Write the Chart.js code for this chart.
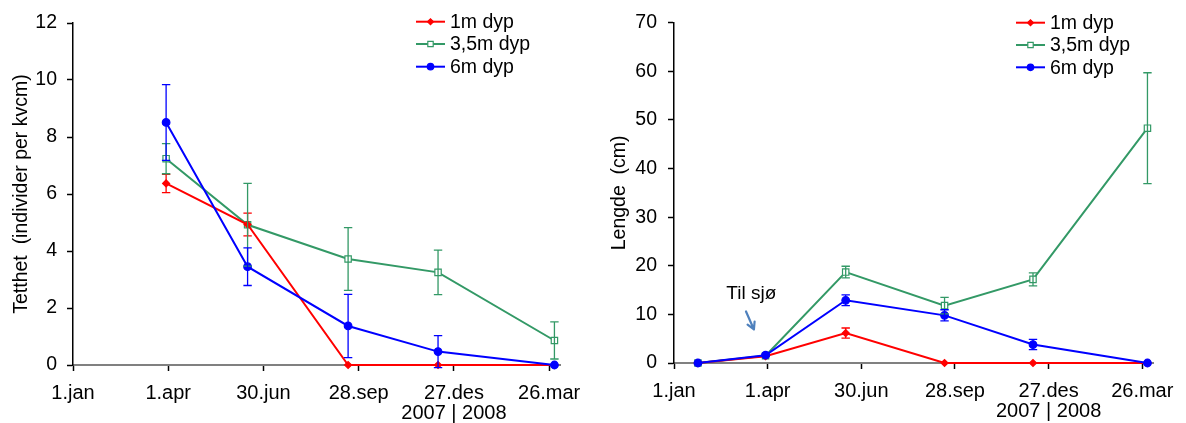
<!DOCTYPE html>
<html><head><meta charset="utf-8">
<script src="https://cdn.jsdelivr.net/npm/chart.js@4/dist/chart.umd.min.js"></script>
<style>
html,body{margin:0;padding:0;background:#fff;}
#wrap{position:relative;width:1186px;height:423px;overflow:hidden;background:#fff;}
canvas{position:absolute;top:0;}
#c1{left:0;} #c2{left:593px;}
</style></head><body>
<div id="wrap"><canvas id="c1" width="593" height="423"></canvas><canvas id="c2" width="593" height="423"></canvas></div>
<script>
// ---- data ----
const seriesLabels = ['1m dyp', '3,5m dyp', '6m dyp'];
const tickDays = [0, 90, 180, 270, 360, 450];
const tickNames = ['1.jan', '1.apr', '30.jun', '28.sep', '27.des', '26.mar'];
const yearLabel = '2007 | 2008';

// Tetthet (individer per kvcm)
const densityDays = [88, 165, 260, 345, 455];
const density1m = [6.37, 4.93, 0, 0, 0];
const density1mErr = [0.32, 0.40, 0, 0, 0];
const density35m = [7.24, 4.92, 3.72, 3.25, 0.86];
const density35mErr = [0.53, 1.45, 1.10, 0.78, 0.65];
const density6m = [8.51, 3.45, 1.37, 0.47, 0];
const density6mErr = [1.33, 0.66, 1.11, 0.56, 0];

// Lengde (cm)
const lengthDays = [23, 88, 165, 260, 345, 455];
const length1m = [0, 1.4, 6.15, 0, 0, 0];
const length1mErr = [0, 0, 1.05, 0, 0, 0];
const length35m = [0, 1.5, 18.7, 11.8, 17.2, 48.3];
const length35mErr = [0, 0, 1.2, 1.7, 1.35, 11.4];
const length6m = [0, 1.6, 12.9, 9.8, 3.8, 0];
const length6mErr = [0, 0.2, 1.1, 1.15, 1.05, 0];

const annotationText = 'Til sjø';

// ---- styles ----
const FONT = '"Liberation Sans", Arial, sans-serif';
const styles = [
  {color: '#ff0000', pointStyle: 'rectRot', radius: 3.5, fill: '#ff0000', order: 1},
  {color: '#339966', pointStyle: 'rect', radius: 4.5, fill: '#ffffff', order: 2},
  {color: '#0000ff', pointStyle: 'circle', radius: 3.8, fill: '#0000ff', order: 0}
];

function makeDatasets(days, seriesList, errList) {
  return seriesList.map((vals, i) => ({
    label: seriesLabels[i],
    data: vals.map((v, j) => ({x: days[j], y: v})),
    errors: errList[i],
    borderColor: styles[i].color,
    backgroundColor: styles[i].fill,
    pointBackgroundColor: styles[i].fill,
    pointBorderColor: styles[i].color,
    pointBorderWidth: 1.2,
    pointStyle: styles[i].pointStyle,
    pointRadius: styles[i].radius,
    borderWidth: 2,
    tension: 0,
    clip: false,
    order: styles[i].order
  }));
}

const errorBarPlugin = {
  id: 'errorBars',
  afterDatasetsDraw(chart) {
    const ctx = chart.ctx, xs = chart.scales.x, ys = chart.scales.y;
    ctx.save();
    chart.data.datasets.forEach(ds => {
      ctx.strokeStyle = ds.borderColor;
      ctx.lineWidth = 1.3;
      ds.data.forEach((p, j) => {
        const e = ds.errors[j];
        if (!e) return;
        const x = xs.getPixelForValue(p.x);
        const y1 = ys.getPixelForValue(p.y + e);
        const y2 = ys.getPixelForValue(p.y - e);
        ctx.beginPath();
        ctx.moveTo(x, y1); ctx.lineTo(x, y2);
        ctx.moveTo(x - 4.2, y1); ctx.lineTo(x + 4.2, y1);
        ctx.moveTo(x - 4.2, y2); ctx.lineTo(x + 4.2, y2);
        ctx.stroke();
      });
    });
    ctx.restore();
  }
};

const legendPlugin = {
  id: 'boxLegend',
  afterDraw(chart, args, opts) {
    const ctx = chart.ctx;
    ctx.save();
    chart.data.datasets.forEach((ds, i) => {
      const y = opts.rows[i];
      ctx.strokeStyle = ds.borderColor;
      ctx.lineWidth = 2;
      ctx.beginPath();
      ctx.moveTo(opts.x0, y); ctx.lineTo(opts.x1, y);
      ctx.stroke();
      ctx.fillStyle = ds.pointBackgroundColor;
      ctx.strokeStyle = ds.borderColor;
      ctx.lineWidth = 1.2;
      Chart.helpers.drawPoint(ctx, {pointStyle: ds.pointStyle, rotation: 0, radius: ds.pointRadius * 0.85, borderWidth: 1.2}, (opts.x0 + opts.x1) / 2, y);
      ctx.fillStyle = '#000';
      ctx.font = '19.5px ' + FONT;
      ctx.textAlign = 'left';
      ctx.textBaseline = 'middle';
      ctx.fillText(ds.label, opts.textX, y + 1);
    });
    ctx.restore();
  }
};

const annotationPlugin = {
  id: 'noteArrow',
  afterDraw(chart, args, opts) {
    if (!opts.text) return;
    const ctx = chart.ctx, xs = chart.scales.x, ys = chart.scales.y;
    ctx.save();
    ctx.fillStyle = '#000';
    ctx.font = '19px ' + FONT;
    ctx.textAlign = 'left';
    ctx.textBaseline = 'alphabetic';
    ctx.fillText(opts.text, xs.getPixelForValue(opts.textAt[0]), ys.getPixelForValue(opts.textAt[1]));
    const ax = xs.getPixelForValue(opts.from[0]), ay = ys.getPixelForValue(opts.from[1]);
    const bx = xs.getPixelForValue(opts.to[0]), by = ys.getPixelForValue(opts.to[1]);
    ctx.strokeStyle = '#4f81bd';
    ctx.lineWidth = 2.2;
    ctx.lineCap = 'round';
    ctx.beginPath();
    ctx.moveTo(ax, ay); ctx.lineTo(bx, by);
    const ang = Math.atan2(by - ay, bx - ax);
    const hl = 8;
    ctx.moveTo(bx, by); ctx.lineTo(bx - hl * Math.cos(ang - 0.5), by - hl * Math.sin(ang - 0.5));
    ctx.moveTo(bx, by); ctx.lineTo(bx - hl * Math.cos(ang + 0.5), by - hl * Math.sin(ang + 0.5));
    ctx.stroke();
    ctx.restore();
  }
};

function makeChart(canvas, cfg) {
  return new Chart(canvas, {
    type: 'line',
    data: {datasets: cfg.datasets},
    options: {
      responsive: false,
      animation: false,
      devicePixelRatio: 1,
      layout: {padding: {left: 0, right: cfg.padRight, top: cfg.padTop, bottom: 0}},
      plugins: {
        legend: {display: false},
        tooltip: {enabled: false},
        boxLegend: cfg.legend,
        noteArrow: cfg.note || {}
      },
      scales: {
        x: {
          type: 'linear', min: 0, max: 461,
          afterBuildTicks(scale) { scale.ticks = tickDays.map(v => ({value: v})); },
          afterFit(scale) { scale.height = cfg.xAxisHeight; },
          ticks: {
            autoSkip: false, maxRotation: 0, minRotation: 0, padding: 12, color: '#000',
            font: {family: FONT, size: 20, lineHeight: 1},
            callback(v) {
              const i = tickDays.indexOf(v);
              if (i < 0) return '';
              return v === 360 ? [tickNames[i], yearLabel] : tickNames[i];
            }
          },
          grid: {drawOnChartArea: false, drawTicks: true, tickLength: 6, tickColor: '#000', tickWidth: 1.5},
          border: {display: true, color: '#808080', width: 2}
        },
        y: {
          min: 0, max: cfg.yMax,
          afterFit(scale) { scale.width = cfg.yAxisWidth; },
          ticks: {stepSize: cfg.yStep, padding: cfg.yPad, color: '#000', font: {family: FONT, size: 19.5}},
          grid: {drawOnChartArea: false, drawTicks: true, tickLength: 6, tickColor: '#000', tickWidth: 1.5},
          border: {display: true, color: '#000', width: 1.5},
          title: {display: true, text: cfg.yTitle, color: '#000', font: {family: FONT, size: 19.5}, padding: {top: cfg.titlePad, bottom: 0}}
        }
      }
    },
    plugins: [errorBarPlugin, legendPlugin, annotationPlugin]
  });
}

makeChart(document.getElementById('c1'), {
  datasets: makeDatasets(densityDays, [density1m, density35m, density6m], [density1mErr, density35mErr, density6mErr]),
  yMax: 12, yStep: 2, yPad: 10, yAxisWidth: 73, padRight: 31, padTop: 23, xAxisHeight: 58,
  yTitle: 'Tetthet  (individer per kvcm)', titlePad: 10,
  legend: {x0: 416, x1: 445, textX: 450, rows: [21.7, 44, 66.7]}
});

makeChart(document.getElementById('c2'), {
  datasets: makeDatasets(lengthDays, [length1m, length35m, length6m], [length1mErr, length35mErr, length6mErr]),
  yMax: 70, yStep: 10, yPad: 11, yAxisWidth: 81, padRight: 26, padTop: 22, xAxisHeight: 60,
  yTitle: 'Lengde  (cm)', titlePad: 15,
  legend: {x0: 423, x1: 452, textX: 457, rows: [22.7, 45, 67.3]},
  note: {text: annotationText, textAt: [50.3, 13.1], from: [69.2, 10.6], to: [76.8, 6.9]}
});
</script>
</body></html>
